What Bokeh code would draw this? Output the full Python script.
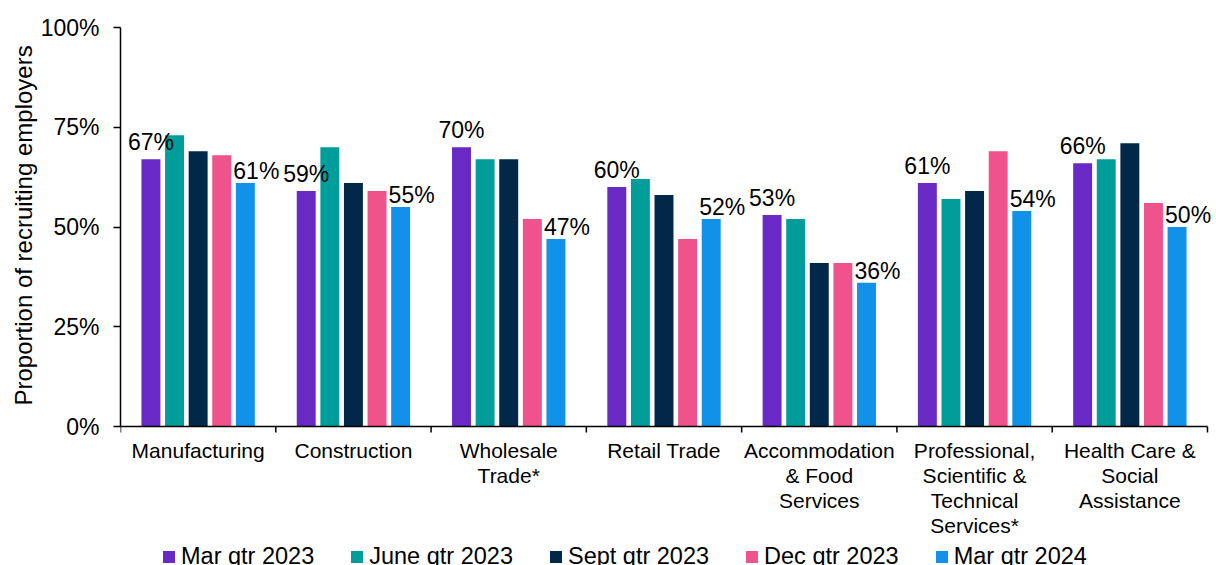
from bokeh.plotting import figure
from bokeh.models import FixedTicker, Legend, LegendItem, Range1d, Title
from bokeh.core.properties import value
from bokeh.embed import file_html
from bokeh.resources import INLINE

categories = ["Manufacturing", "Construction", "Wholesale\nTrade*", "Retail Trade",
              "Accommodation\n& Food\nServices",
              "Professional,\nScientific &\nTechnical\nServices*",
              "Health Care &\nSocial\nAssistance"]
series_names = ["Mar qtr 2023", "June qtr 2023", "Sept qtr 2023", "Dec qtr 2023", "Mar qtr 2024"]
mar_2023 = [67, 59, 70, 60, 53, 61, 66]
jun_2023 = [73, 70, 67, 62, 52, 57, 67]
sep_2023 = [69, 61, 67, 58, 41, 59, 71]
dec_2023 = [68, 59, 52, 47, 41, 69, 56]
mar_2024 = [61, 55, 47, 52, 36, 54, 50]
y_ticks = [0, 25, 50, 75, 100]
y_tick_labels = ["0%", "25%", "50%", "75%", "100%"]
y_title = "Proportion of recruiting employers"

colors = ["#6929c4", "#009d9a", "#012749", "#ee538b", "#1192e8"]
series = [mar_2023, jun_2023, sep_2023, dec_2023, mar_2024]

FONT = "Liberation Sans"
n = len(categories)
centers = [i + 0.5 for i in range(n)]
boundaries = list(range(n + 1))
step = 0.152
bar_w = 0.122
offsets = [(k - 2) * step for k in range(5)]

# layout (pixels)
W, H = 1216, 565
left, top = 120, 27
axis_right = 1207
axis_y_px = 426
fw = W - left
fh = H - top
plot_h = axis_y_px - top            # pixels from 0% to 100%
x_max = n * fw / (axis_right - left)
y_min = -100 * (H - axis_y_px) / plot_h
tick_len = 6 * 100 / plot_h

p = figure(frame_width=fw, frame_height=fh, output_backend="svg", toolbar_location=None,
           x_range=Range1d(0, x_max), y_range=Range1d(y_min, 100),
           min_border_left=left, min_border_right=0, min_border_top=top,
           min_border_bottom=0)
p.outline_line_color = None
p.xgrid.visible = False
p.ygrid.visible = False
p.xaxis.visible = False

items = []
for k, (vals, col, name) in enumerate(zip(series, colors, series_names)):
    xs = [c + offsets[k] for c in centers]
    r = p.vbar(x=xs, top=vals, width=bar_w, fill_color=col, line_color=None)
    items.append(LegendItem(label=name, renderers=[r]))

# data labels: first and last series
xs0 = [c + offsets[0] for c in centers]
p.text(x=xs0, y=mar_2023, text=[f"{v}%" for v in mar_2023], text_align="center",
       text_baseline="alphabetic", y_offset=-17, text_color="black",
       text_font=value(FONT), text_font_size=value("23px"))
xs4 = [c + offsets[4] for c in centers]
p.text(x=xs4, y=mar_2024, text=[f"{v}%" for v in mar_2024], text_align="center",
       text_baseline="alphabetic", x_offset=11, y_offset=-12, text_color="black",
       text_font=value(FONT), text_font_size=value("23px"))

# category axis (drawn at y = 0)
p.segment(x0=[0], y0=[0], x1=[n], y1=[0], line_color="black", line_width=1.5)
p.segment(x0=boundaries, y0=[0] * len(boundaries), x1=boundaries,
          y1=[-tick_len] * len(boundaries), line_color="black", line_width=1.5)
p.text(x=centers, y=[0] * n, text=categories, text_align="center", text_baseline="top",
       y_offset=12, text_line_height=1.09, text_color="black",
       text_font=value(FONT), text_font_size=value("21px"))

# y axis
ya = p.yaxis[0]
ya.bounds = (0, 100)
ya.ticker = FixedTicker(ticks=y_ticks)
ya.major_label_overrides = {t: l for t, l in zip(y_ticks, y_tick_labels)}
ya.major_tick_out = 7
ya.major_tick_in = 0
ya.minor_tick_line_color = None
ya.major_tick_line_color = "black"
ya.major_tick_line_width = 1.5
ya.axis_line_color = "black"
ya.axis_line_width = 1.5
ya.major_label_standoff = 14
ya.major_label_text_font = FONT
ya.major_label_text_font_size = "23px"
ya.major_label_text_color = "black"

# y axis title, placed along the 0-100% span
title = Title(text=y_title, align="left", offset=(H - axis_y_px) + 21,
              text_font=FONT, text_font_size="24px", text_font_style="normal",
              text_color="black", standoff=2)
p.add_layout(title, "left")

legend = Legend(items=items, orientation="horizontal", location=(41, -5),
                margin=0, padding=0, spacing=35, label_standoff=5,
                glyph_width=15, glyph_height=15,
                label_text_font=FONT, label_text_font_size="23.5px",
                label_text_color="black", border_line_color=None,
                background_fill_alpha=0)
p.add_layout(legend, "center")

open("out.html", "w").write(file_html(p, INLINE))
